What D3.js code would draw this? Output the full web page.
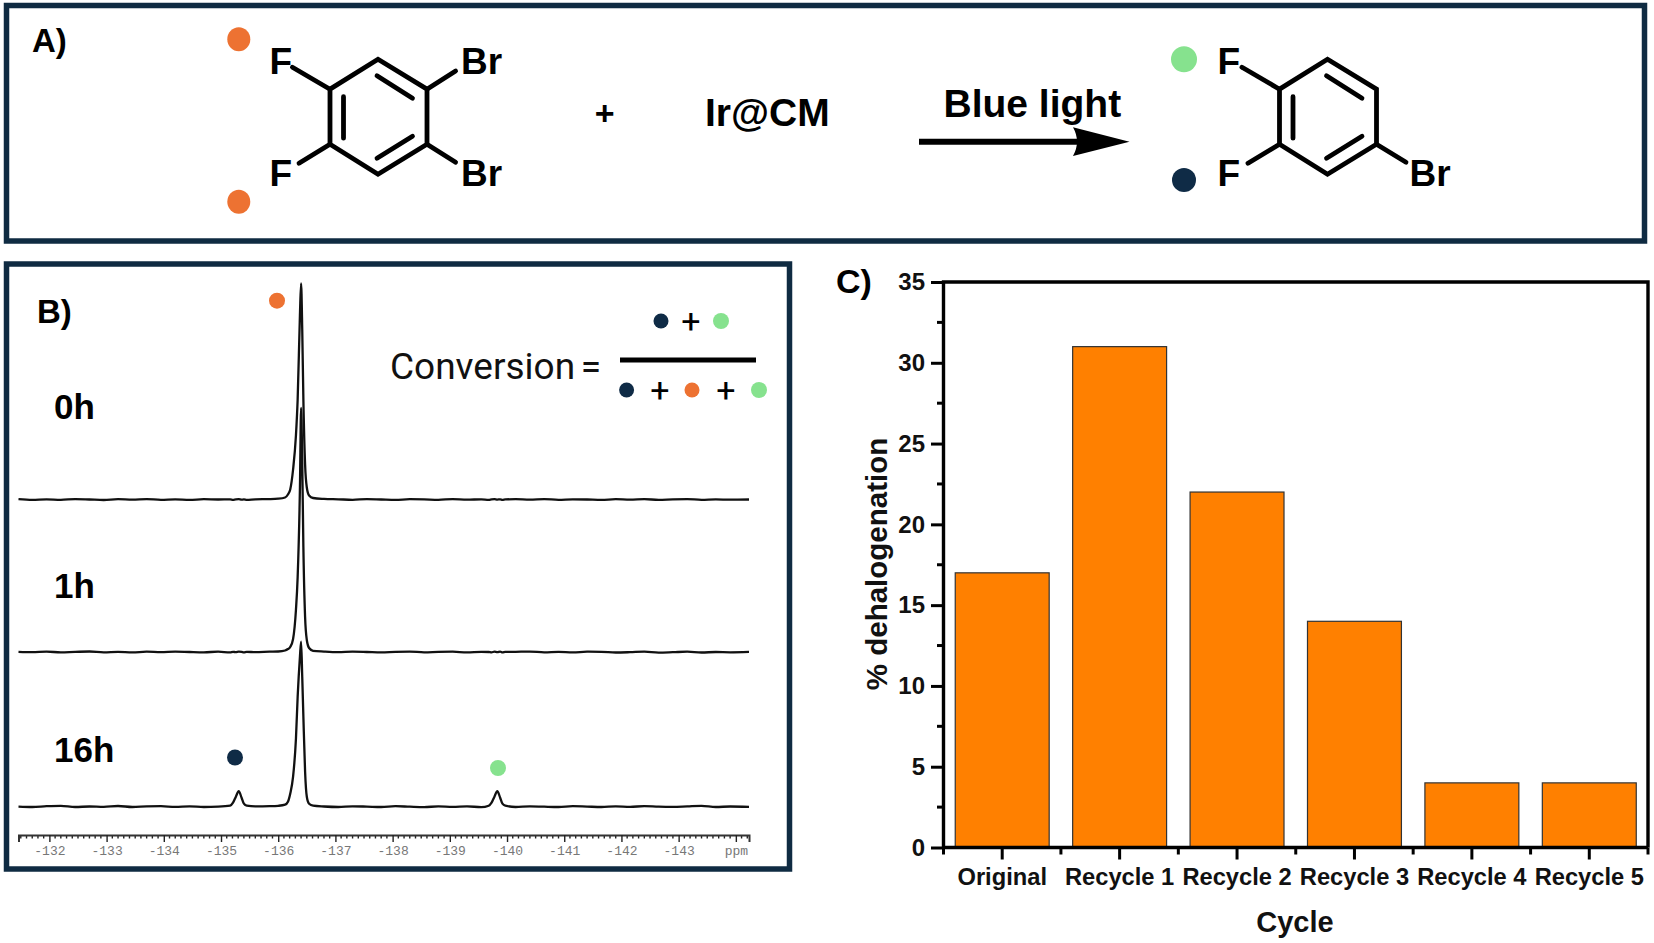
<!DOCTYPE html>
<html>
<head>
<meta charset="utf-8">
<script src="https://cdn.jsdelivr.net/npm/d3@7"></script>
<style>
html,body{margin:0;padding:0;background:#fff;}
svg{display:block;}
text{font-family:"Liberation Sans",Arial,sans-serif;}
</style>
</head>
<body>
<svg id="fig" width="1654" height="943" viewBox="0 0 1654 943"></svg>
<script>
// ---------- Panel C data ----------
const cycles = ["Original","Recycle 1","Recycle 2","Recycle 3","Recycle 4","Recycle 5"];
const dehalogenation = [17,31,22,14,4,4];
const yMajorTicks = [0,5,10,15,20,25,30,35];
const yMinorTicks = [2.5,7.5,12.5,17.5,22.5,27.5,32.5];

// ---------- Panel B data (heights are in plot pixels above each trace's baseline) ----------
const ppmTicks = [-132,-133,-134,-135,-136,-137,-138,-139,-140,-141,-142,-143,-144];
const ppm = [
 -131.46,-131.7,-131.95,-132.2,-132.45,-132.7,-132.95,-133.2,-133.45,-133.7,-133.95,-134.2,-134.45,-134.7,-134.95,
 -135.16,-135.21,-135.26,-135.31,-135.36,-135.40,-135.45,
 -135.6,-135.85,-136.0,
 -136.12,-136.17,-136.21,-136.26,-136.31,-136.34,-136.38,-136.40,-136.42,-136.44,-136.47,-136.50,-136.54,-136.61,
 -136.8,-137.05,-137.3,-137.55,-137.8,-138.05,-138.3,-138.55,-138.8,-139.05,-139.3,-139.55,
 -139.68,-139.73,-139.78,-139.83,-139.88,-139.92,-139.97,
 -140.15,-140.4,-140.65,-140.9,-141.15,-141.4,-141.65,-141.9,-142.15,-142.4,-142.65,-142.9,-143.15,-143.4,-143.65,-143.9,-144.23];
const trace0h = [
 0.3,-0.4,0.2,-0.3,0.4,0,-0.5,0.3,-0.2,0.4,-0.3,0.2,-0.4,0.3,0,
 0.2,-0.3,0.2,0.3,-0.2,0.1,-0.3,
 0.2,0.4,0.8,
 2,5,10,30,64,100,185,216,170,100,35,12,4,1.5,
 0.6,0.2,-0.3,0.4,0,-0.4,0.3,0.1,-0.3,0.4,-0.2,0.2,
 -0.3,0.2,0.4,-0.1,0.2,-0.3,0.1,
 0.3,-0.2,0.4,-0.3,0.2,0,-0.4,0.3,-0.2,0.3,-0.3,0.2,0.4,-0.3,0.1,-0.2,0];
const trace1h = [
 0.2,-0.2,0.4,-0.4,0.2,0.5,-0.3,0.1,-0.4,0.3,-0.2,0.4,0,-0.3,0.3,
 -0.4,0.2,-0.2,0.3,0.1,-0.4,0.2,
 -0.2,0.3,0.5,
 1.5,3,5,13,42,75,165,244,190,105,35,12,4,1.2,
 0.4,-0.2,0.3,0,-0.4,0.2,0.4,-0.3,0.1,0.3,-0.4,0.2,
 0,-0.3,0.3,-0.2,0.4,-0.4,0.1,
 0.2,0.4,-0.3,0.1,-0.4,0.3,0.2,-0.5,-0.2,0.3,-0.6,-0.2,0.3,-0.5,0,-0.3,0.1];
const trace16h = [
 0.1,-0.3,0.5,0.9,-0.3,0.2,-0.2,0.7,-0.3,0.3,0.5,-0.2,0.3,-0.3,0,
 1,4,10,15.5,9,3,1,
 0.3,0.5,0.9,
 2,5,13,30,68,110,150,165,130,90,35,10,3,1,
 0.2,-0.3,0.4,0.1,-0.3,0.5,0,-0.4,0.3,-0.2,0.4,-0.5,
 1,4,10,15.5,9,3,1,
 -0.3,0.4,0,-0.3,0.5,0.1,-0.3,0.4,-0.2,0.6,0,-0.2,0.3,0.8,-0.3,0.2,-0.1];
const traceLabels = ["0h","1h","16h"];

// ---------- Colours ----------
const NAVY="#0f2b46", ORANGE="#ed7232", GREEN="#86e28e", FRAME="#0f2b42", BAR="#ff8000";

const svg = d3.select("#fig");
svg.append("rect").attr("width",1654).attr("height",943).attr("fill","#fff");

// ---------- Panel frames ----------
const frames=[[6.5,5.5,1638,235.5],[6.5,264,783,605]];
svg.selectAll("rect.frame").data(frames).join("rect").attr("class","frame")
  .attr("x",d=>d[0]).attr("y",d=>d[1]).attr("width",d=>d[2]).attr("height",d=>d[3])
  .attr("fill","none").attr("stroke",FRAME).attr("stroke-width",5.5);

function label(t,x,y,size,weight,anchor,fill,fam){
  const e=svg.append("text").attr("x",x).attr("y",y).attr("font-size",size)
    .attr("font-weight",weight||"normal").attr("text-anchor",anchor||"start").attr("fill",fill||"#000").text(t);
  if(fam) e.style("font-family",fam);
  return e;
}
function dot(x,y,r,c,ry){svg.append("ellipse").attr("cx",x).attr("cy",y).attr("rx",r).attr("ry",ry||r).attr("fill",c);}

label("A)",32,52,33,"bold");
label("B)",37,323,33,"bold");
label("C)",836,293,34,"bold");

// ---------- Panel A: scheme ----------
function ring(cx,cy,subs){
  const g=svg.append("g").attr("transform",`translate(${cx},${cy})`)
    .attr("fill","none").attr("stroke","#000").attr("stroke-width",4.8).attr("stroke-linecap","round").attr("stroke-linejoin","miter");
  g.append("path").attr("d","M0,-57.5L49,-27.5L49,27.5L0,57.5L-48,27.5L-48,-27.5Z");
  g.append("path").attr("d","M-34.5,-20V21.5M-1,-41L34.5,-18.5M34.5,19.5L-1,41.5");
  subs.forEach(s=>g.append("path").attr("d",s));
}
ring(378,116.7,["M-85.6,-49.4L-48,-27.5","M-79,46.6L-48,27.5","M77.6,-45.7L49,-27.5","M77.6,45.6L49,27.5"]);
ring(1327.5,116.7,["M-85.5,-49.4L-48,-27.5","M-79.5,46.6L-48,27.5","M78.5,45.6L49,27.5"]);
[["F",269.5,74],["F",269.5,186],["Br",461,74],["Br",461,186],["F",1217.5,74],["F",1217.5,186],["Br",1409.5,186]]
  .forEach(d=>label(d[0],d[1],d[2],37,"bold"));
dot(238.8,39.3,11.5,ORANGE,12);
dot(238.8,201.7,11.5,ORANGE,12);
dot(1184,59.3,13,GREEN);
dot(1184,180,12,NAVY);
label("+",604.6,125,34,"bold","middle");
label("Ir@CM",705,126,39,"bold");
label("Blue light",943.5,117,39,"bold");
svg.append("line").attr("x1",919).attr("x2",1080).attr("y1",141.7).attr("y2",141.7).attr("stroke","#000").attr("stroke-width",6);
svg.append("path").attr("d","M1129.5,141.7L1073,127.3Q1081,141.7 1073,156Z").attr("fill","#000");

// ---------- Panel B: spectra ----------
const xPpm = d3.scaleLinear().domain([-131.46,-144.23]).range([18.5,749]);
const height = d3.scaleLinear().domain([0,244]).range([0,-244]);
const line = d3.line().x(d=>xPpm(d[0])).y(d=>height(d[1])).curve(d3.curveMonotoneX);
const traces=[{v:trace0h,base:499.5},{v:trace1h,base:652},{v:trace16h,base:806.7}];
svg.selectAll("g.trace").data(traces).join("g").attr("class","trace")
  .attr("transform",d=>`translate(0,${d.base})`)
  .append("path").attr("d",d=>line(ppm.map((p,i)=>[p,d.v[i]])))
  .attr("fill","none").attr("stroke","#111").attr("stroke-width",2.3).attr("stroke-linejoin","round");
[[54,419],[54,598],[54,762]].forEach((p,i)=>label(traceLabels[i],p[0],p[1],35,"bold"));

const minorPpm = d3.range(-1315,-1443,-1).map(d=>d/10).filter(d=>!ppmTicks.includes(d));
const axPpm = svg.append("g").attr("transform","translate(0,835)");
axPpm.append("g").selectAll("line").data(minorPpm).join("line")
  .attr("x1",d=>xPpm(d)).attr("x2",d=>xPpm(d)).attr("y1",0).attr("y2",3.5).attr("stroke","#222").attr("stroke-width",1.4);
const axisPpm = d3.axisBottom(xPpm).tickValues(ppmTicks).tickSize(7).tickPadding(4)
  .tickFormat(d=>d===-144?"ppm":String(d));
axPpm.call(axisPpm);
axPpm.select(".domain").attr("stroke","#333").attr("stroke-width",2);
axPpm.selectAll(".tick line").attr("stroke","#222").attr("stroke-width",1.4);
axPpm.selectAll(".tick text").attr("fill","#777").style("font-family","'Liberation Mono',monospace").attr("font-size",13);

dot(277,300.7,8,ORANGE);
dot(235,757.5,8,NAVY);
dot(498,768,8,GREEN);

// conversion formula
const R="Roboto,'Noto Sans',sans-serif";
label("Conversion",390,379,37,"normal","start","#111",R);
label("=",591,379,37,"normal","middle","#111",R);
svg.append("rect").attr("x",620).attr("y",357.5).attr("width",136).attr("height",5).attr("fill","#000");
dot(661,321,7.5,NAVY);
label("+",691,333,34,"normal","middle","#000",R);
dot(721,321,8,GREEN);
dot(626.6,390,7.5,NAVY);
label("+",660,402,34,"normal","middle","#000",R);
dot(692,390,7.5,ORANGE);
label("+",726,402,34,"normal","middle","#000",R);
dot(759,390,8,GREEN);

// ---------- Panel C: bars ----------
const x = d3.scaleBand().domain(cycles).range([943.5,1648]).paddingInner(0.2).paddingOuter(0.1);
const y = d3.scaleLinear().domain([0,35]).range([847.5,282]);
svg.append("g").selectAll("rect").data(cycles).join("rect")
  .attr("x",d=>x(d)).attr("width",x.bandwidth())
  .attr("y",(d,i)=>y(dehalogenation[i])).attr("height",(d,i)=>y(0)-y(dehalogenation[i]))
  .attr("fill",BAR).attr("stroke","#333").attr("stroke-width",1.2);

svg.append("path").attr("d",`M${x.range()[0]},${y(0)}V${y(35)}H${x.range()[1]}V${y(0)}`)
  .attr("fill","none").attr("stroke","#000").attr("stroke-width",3.4);

const gy = svg.append("g").attr("transform","translate(944,0)")
  .call(d3.axisLeft(y).tickValues(yMajorTicks).tickSize(13).tickPadding(6));
gy.select(".domain").remove();
gy.selectAll(".tick line").attr("stroke","#000").attr("stroke-width",3);
gy.selectAll(".tick text").attr("fill","#111").attr("font-weight","bold").attr("font-size",24).style("font-family","'Liberation Sans'");
svg.append("g").selectAll("line").data(yMinorTicks).join("line")
  .attr("x1",944).attr("x2",937).attr("y1",d=>y(d)).attr("y2",d=>y(d)).attr("stroke","#000").attr("stroke-width",3);

const gx = svg.append("g").attr("transform",`translate(0,${y(0)})`)
  .call(d3.axisBottom(x).tickSize(12).tickPadding(9));
gx.select(".domain").attr("stroke","#000").attr("stroke-width",3.4).attr("d",`M944,0H1648`);
gx.selectAll(".tick line").attr("stroke","#000").attr("stroke-width",3);
gx.selectAll(".tick text").attr("fill","#111").attr("font-weight","bold").attr("font-size",23.7).style("font-family","'Liberation Sans'");
svg.append("g").selectAll("line").data(d3.range(7)).join("line")
  .attr("x1",i=>x.range()[0]+i*x.step()).attr("x2",i=>x.range()[0]+i*x.step())
  .attr("y1",y(0)).attr("y2",y(0)+7).attr("stroke","#000").attr("stroke-width",3);

label("Cycle",1295,932,29,"bold","middle","#111");
svg.append("text").attr("transform","translate(887,564) rotate(-90)")
  .attr("text-anchor","middle").attr("font-size",29.5).attr("font-weight","bold").attr("fill","#111").text("% dehalogenation");
</script>
</body>
</html>
